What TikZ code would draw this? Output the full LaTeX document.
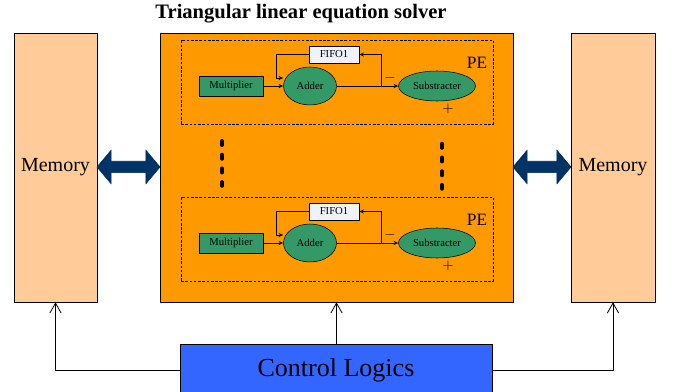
\documentclass[tikz,border=0pt]{standalone}
\usepackage{fontspec}
\setmainfont{Liberation Serif}
\usetikzlibrary{shapes.geometric,shapes.arrows,arrows.meta}

\definecolor{peach}{HTML}{FFCC99}
\definecolor{solverorange}{HTML}{FF9900}
\definecolor{pegreen}{HTML}{339966}
\definecolor{fifofill}{HTML}{EEF2FB}
\definecolor{busnavy}{HTML}{003366}
\definecolor{ctrlblue}{HTML}{3366FF}

\tikzset{
    memory/.style={draw, fill=peach, minimum width=62.5pt, minimum height=201.75pt,
        inner sep=0, font=\fontsize{15}{18}\selectfont},
    unitbox/.style={draw, fill=pegreen, minimum width=48pt, minimum height=15pt,
        inner sep=0, font=\fontsize{8}{9}\selectfont},
    unitoval/.style={draw, fill=pegreen, ellipse, inner sep=0,
        font=\fontsize{8}{9}\selectfont},
    fifobox/.style={draw, fill=fifofill, minimum width=37.5pt, minimum height=12.75pt,
        inner sep=0, font=\fontsize{8}{9}\selectfont},
    pebox/.style={draw, dashed, dash pattern=on 2pt off 1.2pt, minimum width=234pt,
        minimum height=63pt, inner sep=0},
    flow/.style={-{Stealth[length=3.5pt,width=3pt]}, semithick},
    ctl/.style={-{Straight Barb[length=7.5pt,width=8.5pt]}, semithick},
    bus/.style={double arrow, fill=busnavy, draw=busnavy!80!black, inner sep=0,
        inner ysep=4.1pt, double arrow head extend=8.25pt,
        double arrow tip angle=100},
    dotline/.style={line width=2.6pt, line cap=round, dash pattern=on 3.4pt off 6.9pt},
    sign/.style={font=\fontsize{11}{12}\selectfont}
}

\begin{document}
\begin{tikzpicture}[x=0.75pt, y=-0.75pt]
    \clip (0,0) rectangle (675,392);

    % Memories and solver
    \node[memory] (meml) at (55.5,167.5) {\raisebox{-2pt}{Memory}};
    \node[memory, minimum width=63pt] (memr) at (613,167.5) {\raisebox{-2pt}{Memory}};
    \node[draw, fill=solverorange, minimum width=264.75pt, minimum height=201.75pt,
        inner sep=0] (solver) at (336.5,167.5) {};
    \node[font=\fontsize{15.4}{17}\selectfont\bfseries] (title) at (301,14)
        {Triangular linear equation solver};

    % Buses between memories and solver
    \node[bus, minimum height=47.25pt] (busl) at (128.5,167) {};
    \node[bus, minimum height=43.5pt] (busr) at (542,167) {};

    % First PE
    \node[pebox] (pe1) at (337,82) {};
    \node[font=\fontsize{13}{15}\selectfont] (pel1) at (477,63) {PE};
    \node[unitbox] (mul1) at (231,86) {Multiplier};
    \node[unitoval, minimum width=39.75pt, minimum height=28.5pt] (add1) at (310,86) {Adder};
    \node[fifobox] (fifo1) at (334,54.5) {FIFO1};
    \node[unitoval, minimum width=57.75pt, minimum height=22.5pt] (sub1) at (437,86) {Substracter};
    \node[sign] (mn1) at (390,78) {$-$};
    \node[sign] (pl1) at (448,109) {$+$};
    \coordinate (br1) at (381,86);
    \coordinate (bk1) at (276,78);
    \draw[flow] (mul1) -- (add1);
    \draw[flow] (add1) -- (sub1);
    \draw[flow] (br1) |- (fifo1);
    \draw[flow] (fifo1.west) -| (bk1) -- (bk1 -| add1.west);

    % Second PE
    \node[pebox] (pe2) at (337,239) {};
    \node[font=\fontsize{13}{15}\selectfont] (pel2) at (477,220) {PE};
    \node[unitbox] (mul2) at (231,243) {Multiplier};
    \node[unitoval, minimum width=39.75pt, minimum height=28.5pt] (add2) at (310,243) {Adder};
    \node[fifobox] (fifo2) at (334,211.5) {FIFO1};
    \node[unitoval, minimum width=57.75pt, minimum height=22.5pt] (sub2) at (437,243) {Substracter};
    \node[sign] (mn2) at (390,235) {$-$};
    \node[sign] (pl2) at (448,266) {$+$};
    \coordinate (br2) at (381,243);
    \coordinate (bk2) at (276,235);
    \draw[flow] (mul2) -- (add2);
    \draw[flow] (add2) -- (sub2);
    \draw[flow] (br2) |- (fifo2);
    \draw[flow] (fifo2.west) -| (bk2) -- (bk2 -| add2.west);

    % Dots between the PEs
    \draw[dotline] (222,140.75) -- (222,186);
    \draw[dotline] (442,143.5) -- (442,189);

    % Control logics
    \node[draw, fill=ctrlblue, minimum width=234pt, minimum height=39pt, inner sep=0,
        font=\fontsize{19.5}{22}\selectfont] (ctrl) at (336,370) {Control Logics};
    \draw[ctl] (ctrl.west) -| (meml.south);
    \draw[ctl] (ctrl.east) -| (memr.south);
    \draw[ctl] (ctrl.north -| solver.south) -- (solver.south);
\end{tikzpicture}
\end{document}
